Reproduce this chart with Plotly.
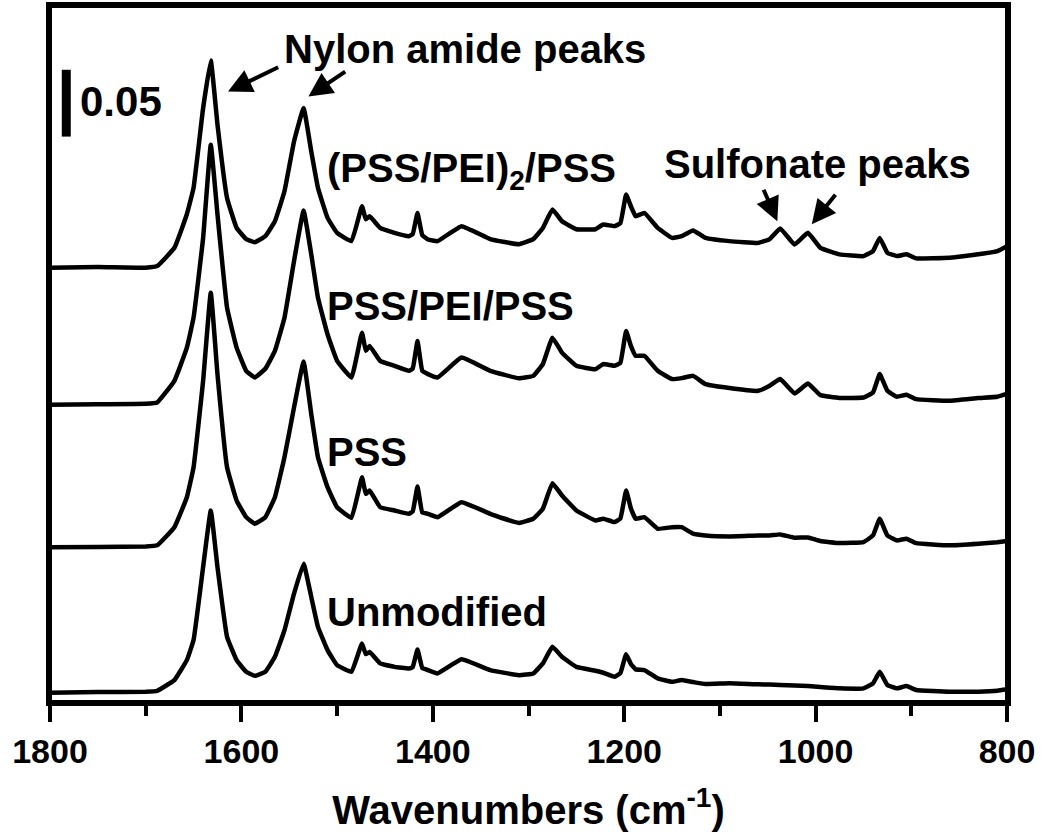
import plotly.graph_objects as go

wavenumber = [1800, 1750, 1700, 1688, 1670, 1657, 1650, 1640, 1632, 1625, 1615, 1605, 1595, 1586,
              1575, 1565, 1555, 1545, 1535, 1527, 1520, 1510, 1500, 1485, 1474, 1470, 1466, 1455,
              1440, 1425, 1421, 1416, 1411, 1405, 1395, 1370, 1340, 1310, 1295, 1285, 1275, 1265,
              1250, 1230, 1222, 1210, 1204, 1198, 1193, 1188, 1179, 1165, 1150, 1140, 1128, 1115,
              1090, 1060, 1048, 1037, 1022, 1008, 995, 975, 950, 940, 933, 925, 915, 905, 895,
              860, 830, 810, 800]

pss_pei2_pss = [0.3249, 0.3254, 0.3249, 0.3261, 0.3398, 0.3649, 0.3846, 0.4443, 0.4799, 0.4321,
                0.3771, 0.3547, 0.3463, 0.3440, 0.3485, 0.3597, 0.3821, 0.4194, 0.4443, 0.4119,
                0.3846, 0.3622, 0.3510, 0.3448, 0.3709, 0.3612, 0.3634, 0.3547, 0.3510, 0.3485,
                0.3500, 0.3659, 0.3493, 0.3460, 0.3448, 0.3560, 0.3463, 0.3425, 0.3463, 0.3547,
                0.3684, 0.3597, 0.3537, 0.3537, 0.3572, 0.3560, 0.3582, 0.3796, 0.3709, 0.3634,
                0.3659, 0.3547, 0.3472, 0.3485, 0.3528, 0.3472, 0.3448, 0.3435, 0.3463, 0.3543,
                0.3423, 0.3510, 0.3398, 0.3349, 0.3336, 0.3373, 0.3472, 0.3360, 0.3336, 0.3349,
                0.3319, 0.3323, 0.3349, 0.3373, 0.3410]

pss_pei_pss = [0.2224, 0.2228, 0.2231, 0.2241, 0.2403, 0.2651, 0.2875, 0.3472, 0.4169, 0.3649,
               0.2950, 0.2651, 0.2478, 0.2428, 0.2493, 0.2627, 0.2875, 0.3299, 0.3677, 0.3349,
               0.3025, 0.2751, 0.2552, 0.2428, 0.2763, 0.2627, 0.2664, 0.2552, 0.2515, 0.2478,
               0.2493, 0.2701, 0.2478, 0.2453, 0.2428, 0.2577, 0.2478, 0.2422, 0.2440, 0.2528,
               0.2726, 0.2614, 0.2515, 0.2490, 0.2528, 0.2515, 0.2537, 0.2776, 0.2664, 0.2590,
               0.2590, 0.2478, 0.2416, 0.2423, 0.2440, 0.2378, 0.2349, 0.2328, 0.2366, 0.2416,
               0.2308, 0.2383, 0.2296, 0.2274, 0.2278, 0.2316, 0.2453, 0.2328, 0.2284, 0.2299,
               0.2266, 0.2254, 0.2274, 0.2284, 0.2304]

pss = [0.1157, 0.1160, 0.1164, 0.1172, 0.1308, 0.1532, 0.1756, 0.2403, 0.3062, 0.2453,
       0.1756, 0.1507, 0.1383, 0.1334, 0.1383, 0.1532, 0.1831, 0.2204, 0.2547, 0.2154,
       0.1831, 0.1607, 0.1457, 0.1378, 0.1681, 0.1557, 0.1582, 0.1457, 0.1433, 0.1408,
       0.1425, 0.1612, 0.1418, 0.1408, 0.1383, 0.1495, 0.1408, 0.1340, 0.1371, 0.1446,
       0.1637, 0.1545, 0.1433, 0.1358, 0.1371, 0.1346, 0.1373, 0.1582, 0.1448, 0.1371,
       0.1383, 0.1296, 0.1308, 0.1308, 0.1259, 0.1246, 0.1239, 0.1246, 0.1246, 0.1254,
       0.1229, 0.1231, 0.1204, 0.1189, 0.1196, 0.1246, 0.1371, 0.1246, 0.1209, 0.1222,
       0.1189, 0.1172, 0.1184, 0.1196, 0.1204]

unmodified = [0.0069, 0.0075, 0.0077, 0.0084, 0.0164, 0.0313, 0.0463, 0.1010, 0.1433, 0.1010,
              0.0487, 0.0313, 0.0226, 0.0196, 0.0226, 0.0338, 0.0537, 0.0811, 0.1035, 0.0786,
              0.0562, 0.0388, 0.0276, 0.0226, 0.0438, 0.0358, 0.0375, 0.0289, 0.0263, 0.0251,
              0.0261, 0.0393, 0.0254, 0.0239, 0.0214, 0.0319, 0.0239, 0.0201, 0.0214, 0.0289,
              0.0413, 0.0338, 0.0263, 0.0234, 0.0219, 0.0189, 0.0216, 0.0358, 0.0284, 0.0244,
              0.0239, 0.0177, 0.0151, 0.0164, 0.0149, 0.0134, 0.0140, 0.0132, 0.0131, 0.0127,
              0.0123, 0.0119, 0.0112, 0.0102, 0.0102, 0.0140, 0.0226, 0.0127, 0.0102, 0.0119,
              0.0090, 0.0077, 0.0077, 0.0084, 0.0095]

series_names = ["(PSS/PEI)<sub>2</sub>/PSS", "PSS/PEI/PSS", "PSS", "Unmodified"]
series_values = [pss_pei2_pss, pss_pei_pss, pss, unmodified]
label_positions = [(1513, 0.397), (1513, 0.2963), (1513, 0.1868), (1513, 0.0674)]

x_ticks = [1800, 1600, 1400, 1200, 1000, 800]
scale_bar = 0.05

FONT = "Liberation Sans, Arial, sans-serif"

fig = go.Figure()
for name, vals in zip(series_names, series_values):
    fig.add_trace(go.Scatter(x=wavenumber, y=vals, mode="lines", name=name,
                             line=dict(color="black", width=4.5, shape="spline", smoothing=0.3),
                             showlegend=False, hoverinfo="skip"))

annotations = []
for name, (lx, ly) in zip(series_names, label_positions):
    annotations.append(dict(x=lx, y=ly, xref="x", yref="y", text=name, showarrow=False,
                            xanchor="left", yanchor="middle",
                            font=dict(family=FONT, size=40, color="black", weight="bold")))

annotations.append(dict(x=1366, y=0.4888, xref="x", yref="y", text="Nylon amide peaks",
                        showarrow=False, xanchor="center", yanchor="middle",
                        font=dict(family=FONT, size=40, color="black", weight="bold")))
annotations.append(dict(x=998, y=0.4022, xref="x", yref="y", text="Sulfonate peaks",
                        showarrow=False, xanchor="center", yanchor="middle",
                        font=dict(family=FONT, size=40, color="black", weight="bold")))
annotations.append(dict(x=1771, y=0.449, xref="x", yref="y", text=f"{scale_bar:.2f}",
                        showarrow=False, xanchor="left", yanchor="middle",
                        font=dict(family=FONT, size=42, color="black", weight="bold")))

arrows = [((1560, 0.4754), (1614, 0.4567)),
          ((1490, 0.4724), (1530, 0.4530)),
          ((1055, 0.3843), (1040, 0.3597)),
          ((978, 0.3806), (1004, 0.3575))]
for (tx, ty), (hx, hy) in arrows:
    annotations.append(dict(x=hx, y=hy, ax=tx, ay=ty, xref="x", yref="y", axref="x", ayref="y",
                            text="", showarrow=True, arrowhead=2, arrowsize=1.2, arrowwidth=4,
                            arrowcolor="black"))

fig.add_shape(type="line", x0=1783, x1=1783, y0=0.423, y1=0.423 + scale_bar,
              xref="x", yref="y", line=dict(color="black", width=9))
# frame around the plotting area
fig.add_shape(type="rect", x0=0, x1=1, y0=0, y1=1, xref="paper", yref="paper",
              line=dict(color="black", width=4), fillcolor="rgba(0,0,0,0)", layer="above")

fig.update_layout(
    width=1050, height=838,
    margin=dict(l=50, r=43, t=6, b=136),
    paper_bgcolor="white", plot_bgcolor="white",
    annotations=annotations,
    font=dict(family=FONT, color="black"),
)
fig.update_xaxes(
    range=[1800, 800], tickvals=x_ticks, ticktext=[str(v) for v in x_ticks],
    ticks="outside", ticklen=16, tickwidth=4, tickcolor="black",
    minor=dict(dtick=100, ticks="outside", ticklen=10, tickwidth=4, tickcolor="black"),
    showline=True, linewidth=4, linecolor="black", mirror=True,
    showgrid=False, zeroline=False, automargin=False,
    tickfont=dict(family=FONT, size=34, color="black", weight="bold"),
    title=dict(text="Wavenumbers (cm<sup>-1</sup>)", standoff=28,
               font=dict(family=FONT, size=40, color="black", weight="bold")),
)
fig.update_yaxes(
    range=[0, 0.5207], showticklabels=False, ticks="",
    showline=True, linewidth=4, linecolor="black", mirror=True,
    showgrid=False, zeroline=False, automargin=False,
)

fig.write_html("out.html", config={"displayModeBar": False},
               post_script="document.body.style.margin='0px';")
